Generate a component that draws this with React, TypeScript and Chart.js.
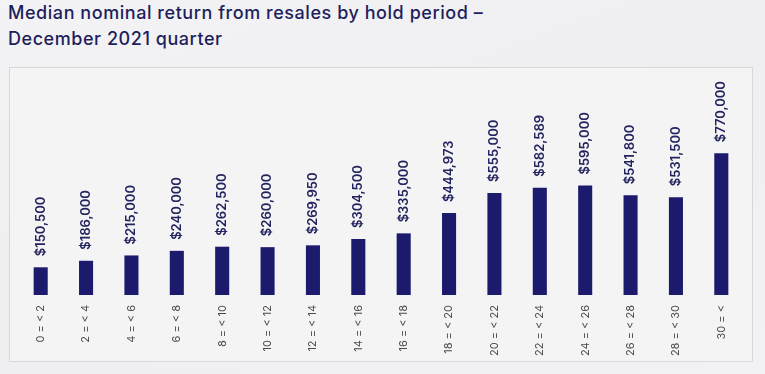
import React, { useEffect, useRef } from "react";
import { Chart, registerables } from "chart.js";

Chart.register(...registerables);

const titleLines = [
  "Median nominal return from resales by hold period –",
  "December 2021 quarter",
];

const categories = [
  "0 = < 2", "2 = < 4", "4 = < 6", "6 = < 8", "8 = < 10", "10 = < 12",
  "12 = < 14", "14 = < 16", "16 = < 18", "18 = < 20", "20 = < 22",
  "22 = < 24", "24 = < 26", "26 = < 28", "28 = < 30", "30 = <",
];

const medianReturn = [
  150500, 186000, 215000, 240000, 262500, 260000, 269950, 304500,
  335000, 444973, 555000, 582589, 595000, 541800, 531500, 770000,
];

const BAR_COLOR = "#1b1a6c";
const LABEL_COLOR = "#23235f";

const fmt = (v: number) => "$" + v.toLocaleString("en-US");

const valueLabels = {
  id: "valueLabels",
  afterDatasetsDraw(chart: any) {
    const ctx = chart.ctx;
    const meta = chart.getDatasetMeta(0);
    ctx.save();
    ctx.fillStyle = LABEL_COLOR;
    ctx.font = "600 13px Inter";
    ctx.textAlign = "left";
    ctx.textBaseline = "middle";
    meta.data.forEach((bar: any, i: number) => {
      ctx.save();
      ctx.translate(bar.x, bar.y - 11);
      ctx.rotate(-Math.PI / 2);
      ctx.fillText(fmt(medianReturn[i]), 0, 0);
      ctx.restore();
    });
    ctx.restore();
  },
};

export default function App() {
  const ref = useRef<HTMLCanvasElement>(null);
  useEffect(() => {
    if (!ref.current) return;
    const chart = new Chart(ref.current, {
      type: "bar",
      data: {
        labels: categories,
        datasets: [
          {
            data: medianReturn,
            backgroundColor: BAR_COLOR,
            barPercentage: 0.31,
            categoryPercentage: 1,
          },
        ],
      },
      options: {
        animation: false,
        responsive: false,
        maintainAspectRatio: false,
        layout: { padding: { top: 43, left: 8, right: 8, bottom: 0 } },
        plugins: {
          legend: { display: false },
          tooltip: { enabled: false },
          title: { display: false },
        },
        scales: {
          x: {
            grid: { display: false },
            border: { display: false },
            ticks: {
              color: "#4a4a4f",
              font: { family: "Inter", size: 11 },
              minRotation: 90,
              maxRotation: 90,
              padding: 2,
              autoSkip: false,
            },
            afterFit(scale: any) {
              scale.height = 66;
            },
          },
          y: {
            display: false,
            min: 0,
            max: 1000000,
          },
        },
      },
      plugins: [valueLabels],
    });
    return () => chart.destroy();
  }, []);

  return (
    <div
      style={{
        position: "absolute",
        left: 0,
        top: 0,
        width: 765,
        height: 374,
        background: "linear-gradient(160deg, #f3f3f5 0%, #efeff1 50%, #f2f2f4 100%)",
        overflow: "hidden",
      }}
    >
      <div
        style={{
          position: "absolute",
          left: 8,
          top: 0,
          fontFamily: "Inter, sans-serif",
          fontWeight: 500,
          fontSize: 18,
          letterSpacing: "0.55px",
          lineHeight: "25.5px",
          color: "#1e1e5c",
          whiteSpace: "nowrap",
        }}
      >
        {titleLines.map((t) => (
          <div key={t}>{t}</div>
        ))}
      </div>
      <div
        style={{
          position: "absolute",
          left: 9,
          top: 67,
          width: 742,
          height: 293,
          border: "1px solid #d8d8da",
          background: "#f4f4f5",
        }}
      >
        <canvas ref={ref} width={742} height={293} style={{ display: "block" }} />
      </div>
    </div>
  );
}
